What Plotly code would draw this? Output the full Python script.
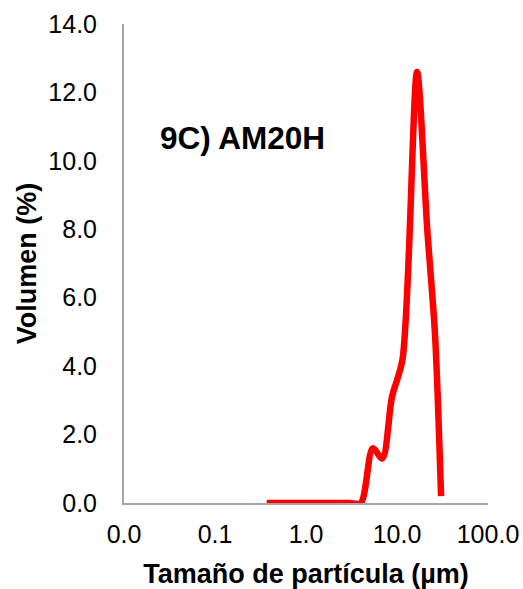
import plotly.graph_objects as go

size_um = [0.37, 0.5, 0.7, 1.0, 1.5, 2.0, 3.0, 4.0, 5.4, 6.9, 8.8, 11.5, 16.6, 21.5, 26.2, 30.5]
volumen = [0, 0, 0, 0, 0, 0, 0, 0, 1.6, 1.3, 3.1, 4.2, 12.6, 8.0, 4.9, 0.2]

x_tickvals = [0.01, 0.1, 1, 10, 100]
x_ticktext = ["0.0", "0.1", "1.0", "10.0", "100.0"]
y_tickvals = [0, 2, 4, 6, 8, 10, 12, 14]
y_ticktext = ["0.0", "2.0", "4.0", "6.0", "8.0", "10.0", "12.0", "14.0"]

FONT = "Liberation Sans, Arial, sans-serif"

fig = go.Figure()
fig.add_trace(go.Scatter(
    x=size_um, y=volumen, mode="lines",
    line=dict(color="#FF0000", width=6.5, shape="spline", smoothing=0.8),
    showlegend=False, hoverinfo="x+y",
))

fig.update_layout(
    width=523, height=589,
    margin=dict(l=124, r=35, t=24, b=86),
    paper_bgcolor="white", plot_bgcolor="white",
    font=dict(family=FONT, color="black", size=25),
    annotations=[dict(
        text="<b>9C) AM20H</b>", xref="paper", yref="paper",
        x=0.093, y=0.762, xanchor="left", yanchor="middle",
        showarrow=False, font=dict(family=FONT, size=31.5, color="black"),
    )],
)
fig.update_xaxes(
    type="log", range=[-2, 2], automargin=False,
    tickvals=x_tickvals, ticktext=x_ticktext,
    showgrid=False, zeroline=False,
    showline=True, linecolor="#A6A6A6", linewidth=2,
    ticks="outside", ticklen=8, tickcolor="rgba(0,0,0,0)",
    tickfont=dict(size=25),
    title=dict(text="<b>Tamaño de partícula (µm)</b>", font=dict(size=27), standoff=17),
)
fig.update_yaxes(
    range=[0, 14], automargin=False,
    tickvals=y_tickvals, ticktext=y_ticktext,
    showgrid=False, zeroline=False,
    showline=True, linecolor="#A6A6A6", linewidth=2,
    ticks="outside", ticklen=20, tickcolor="rgba(0,0,0,0)",
    tickfont=dict(size=25),
    title=dict(text="<b>Volumen (%)</b>", font=dict(size=27), standoff=4),
)

fig.write_html(
    "out.html",
    config={"displayModeBar": False},
    post_script="document.body.style.margin='0';document.body.style.overflow='hidden';",
)
